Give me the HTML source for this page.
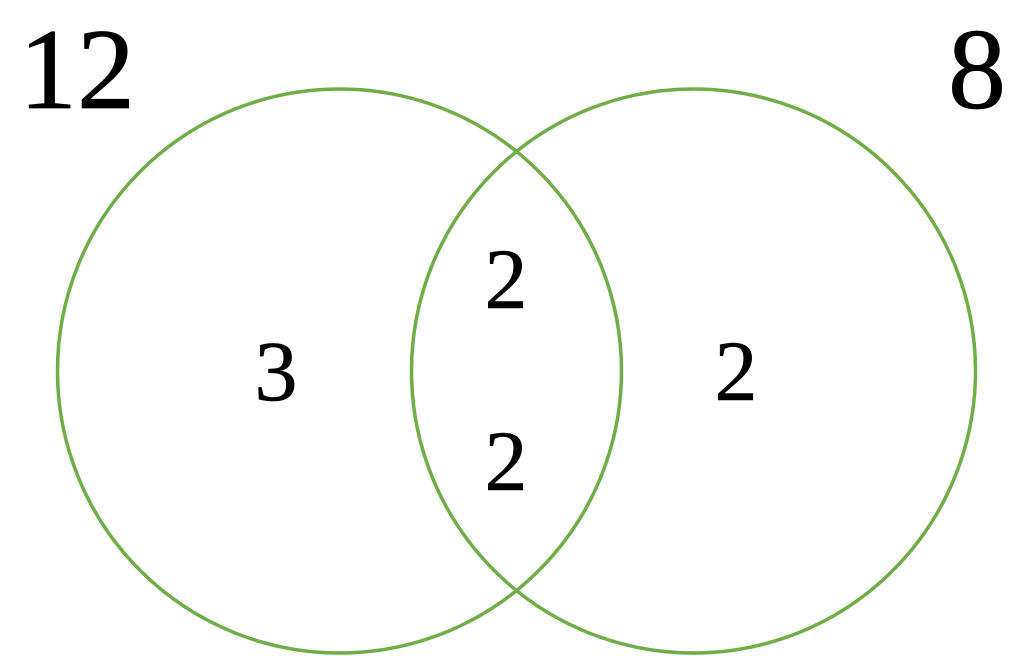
<!DOCTYPE html>
<html><head><meta charset="utf-8"><style>
html,body{margin:0;padding:0;background:#fff;width:1024px;height:656px;overflow:hidden}
svg{display:block}
text{font-family:"Liberation Serif",serif;fill:#000}
</style></head><body>
<svg width="1024" height="656" viewBox="0 0 1024 656">
<circle cx="339.5" cy="371" r="282" fill="none" stroke="#70ad47" stroke-width="3.5"/>
<circle cx="693.5" cy="371" r="282" fill="none" stroke="#70ad47" stroke-width="3.5"/>
<text x="77" y="108" font-size="116" text-anchor="middle" stroke="#000" stroke-width="0.8">12</text>
<text x="977" y="108" font-size="116" text-anchor="middle" stroke="#000" stroke-width="0.8">8</text>
<text x="276" y="400" font-size="86" text-anchor="middle" stroke="#000" stroke-width="0.6">3</text>
<text x="506" y="308" font-size="86" text-anchor="middle" stroke="#000" stroke-width="0.6">2</text>
<text x="506" y="490" font-size="86" text-anchor="middle" stroke="#000" stroke-width="0.6">2</text>
<text x="736" y="400" font-size="86" text-anchor="middle" stroke="#000" stroke-width="0.6">2</text>
</svg>
</body></html>
